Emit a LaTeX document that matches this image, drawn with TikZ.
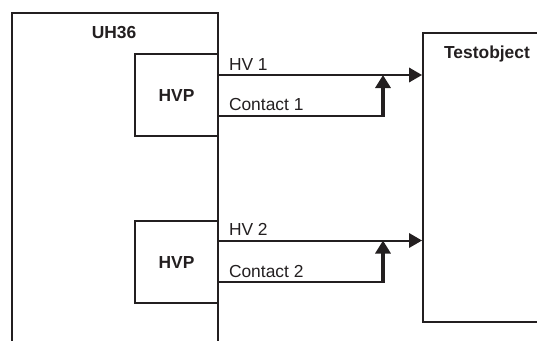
\documentclass[tikz,border=0pt]{standalone}
\usepackage{fontspec}
\setmainfont{Liberation Sans}
\usetikzlibrary{arrows.meta}
\definecolor{ink}{HTML}{231F20}
\begin{document}
\begin{tikzpicture}[x=1pt,y=-1pt,
  line width=2pt, line cap=rect, draw=ink,
  lbl/.style={font=\fontsize{17.4}{20}\selectfont, text=ink, inner sep=0pt, anchor=base west},
  blbl/.style={font=\fontsize{17.4}{20}\selectfont\bfseries, text=ink, inner sep=0pt, anchor=base},
  hvpbox/.style={draw, rectangle, minimum width=83pt, minimum height=82pt, inner sep=0pt},
  wire/.style={line width=2pt, -{Triangle[length=13pt,width=14.5pt]}},
  push/.style={line width=3.5pt, line cap=butt, -{Triangle[length=13pt,width=15pt]}}]
\useasboundingbox (0,0) rectangle (537,340);
\clip (0,0) rectangle (537,340);
% UH36 frame (open at the bottom)
\coordinate (uhbl) at (12,342);
\coordinate (uhtl) at (12,13);
\coordinate (uhtr) at (218,13);
\coordinate (uhbr) at (218,342);
\draw[line cap=butt] (uhbl) -- (uhtl) -- (uhtr) -- (uhbr);
\node[blbl] (uhlabel) at (114,38) {UH36};
% HVP boxes
\node[hvpbox] (hvp1) at (176.5,95) {};
\node[blbl] (hvp1l) at (176.5,101.5) {HVP};
\node[hvpbox] (hvp2) at (176.5,261.5) {};
\node[blbl] (hvp2l) at (176.5,268.5) {HVP};
% Test object
\node[draw, rectangle, minimum width=140pt, minimum height=289pt, inner sep=0pt] (test) at (493,177.5) {};
\node[blbl] (testl) at (487,58.3) {Testobject};
% channel 1
\coordinate (hv1s) at (218,75);
\coordinate (c1s) at (218,116);
\coordinate (c1k) at (383,116);
\draw[wire] (hv1s) -- (hv1s -| test.west);
\draw[line cap=butt] (c1s) -- ([xshift=1.75pt]c1k);
\draw[push] ([yshift=1pt]c1k) -- (c1k |- hv1s);
\node[lbl] (hv1l) at (228,70) {HV 1};
\node[lbl] (c1l) at (228,110.5) {Contact 1};
% channel 2
\coordinate (hv2s) at (218,240.5);
\coordinate (c2s) at (218,281.5);
\coordinate (c2k) at (383,281.5);
\draw[wire] (hv2s) -- (hv2s -| test.west);
\draw[line cap=butt] (c2s) -- ([xshift=1.75pt]c2k);
\draw[push] ([yshift=1pt]c2k) -- (c2k |- hv2s);
\node[lbl] (hv2l) at (228,235.5) {HV 2};
\node[lbl] (c2l) at (228,277.5) {Contact 2};
\end{tikzpicture}
\end{document}
